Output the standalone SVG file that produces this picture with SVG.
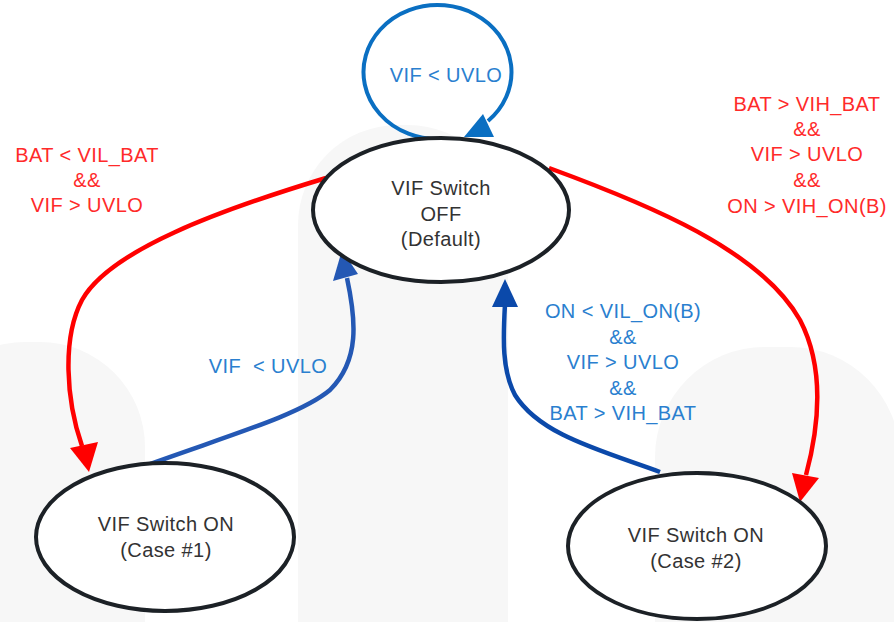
<svg xmlns="http://www.w3.org/2000/svg" width="894" height="622" viewBox="0 0 894 622">
<style>
.bg{fill:#f7f7f7}
.node{fill:#ffffff;stroke:#1c2126;stroke-width:4}
.t{font-family:"Liberation Sans",Arial,sans-serif;font-size:20px;text-anchor:middle;letter-spacing:0.4px}
.dark{fill:#333333}
.red{fill:#ff2a2a}
.blue{fill:#2a7fcf}
.cr{fill:none;stroke:#ff0000;stroke-width:4.5}
.cb1{fill:none;stroke:#2458b4;stroke-width:4.5}
.cb2{fill:none;stroke:#0b49aa;stroke-width:4.5}
.loop{fill:none;stroke:#0a6fc2;stroke-width:4}
</style>
<rect width="894" height="622" fill="#ffffff"/>
<g id="background">
<path class="bg" d="M298,622 V225 A100,100 0 0 1 398,125 H408 A100,100 0 0 1 508,225 V622 Z"/>
<path class="bg" d="M-80,622 V447 A105,105 0 0 1 25,342 H40 A105,105 0 0 1 145,447 V622 Z"/>
<path class="bg" d="M655,622 V457 A110,110 0 0 1 765,347 H790 A110,110 0 0 1 900,457 V622 Z"/>
</g>
<g id="connectors">
<path class="loop" d="M488,121 A74,67 0 1 0 440,139"/>
<polygon fill="#0a6fc2" points="483,114 494,137 464,137"/>
<path class="cr" d="M326,178 C220,210 110,250 82,300 C62,338 66,400 82,446"/>
<polygon fill="#ff0000" points="70,448 98,442 89,472"/>
<path class="cr" d="M549,168 C650,205 760,250 800,320 C826,370 818,430 806,475"/>
<polygon fill="#ff0000" points="792,473 819,478 800,502"/>
<path class="cb1" d="M150,464 C230,435 300,415 330,390 C360,360 356,320 347,278"/>
<polygon fill="#2458b4" points="342,250 333,281 358,274"/>
<path class="cb2" d="M660,472 C600,450 540,435 515,395 C502,370 503,340 505,304"/>
<polygon fill="#0b49aa" points="492,307 518,307 505,279"/>
</g>
<g id="labels">
<text class="t blue" x="446" y="82">VIF &lt; UVLO</text>
<text class="t red" x="87" y="162">BAT &lt; VIL_BAT</text>
<text class="t red" x="87" y="187">&amp;&amp;</text>
<text class="t red" x="87" y="212">VIF &gt; UVLO</text>
<text class="t red" x="807" y="111">BAT &gt; VIH_BAT</text>
<text class="t red" x="807" y="136">&amp;&amp;</text>
<text class="t red" x="807" y="161">VIF &gt; UVLO</text>
<text class="t red" x="807" y="187">&amp;&amp;</text>
<text class="t red" x="807" y="213">ON &gt; VIH_ON(B)</text>
<text class="t blue" x="268" y="373" xml:space="preserve">VIF  &lt; UVLO</text>
<text class="t blue" x="623" y="318">ON &lt; VIL_ON(B)</text>
<text class="t blue" x="623" y="344">&amp;&amp;</text>
<text class="t blue" x="623" y="369">VIF &gt; UVLO</text>
<text class="t blue" x="623" y="395">&amp;&amp;</text>
<text class="t blue" x="623" y="420">BAT &gt; VIH_BAT</text>
</g>
<g id="node-off">
<ellipse class="node" cx="441" cy="210" rx="128" ry="72"/>
<text class="t dark" x="441" y="195">VIF Switch</text>
<text class="t dark" x="441" y="221">OFF</text>
<text class="t dark" x="441" y="246">(Default)</text>
</g>
<g id="node-case1">
<ellipse class="node" cx="165" cy="537" rx="129" ry="74"/>
<text class="t dark" x="166" y="531">VIF Switch ON</text>
<text class="t dark" x="166" y="557">(Case #1)</text>
</g>
<g id="node-case2">
<ellipse class="node" cx="697" cy="546" rx="129" ry="73"/>
<text class="t dark" x="696" y="542">VIF Switch ON</text>
<text class="t dark" x="696" y="568">(Case #2)</text>
</g>
</svg>
